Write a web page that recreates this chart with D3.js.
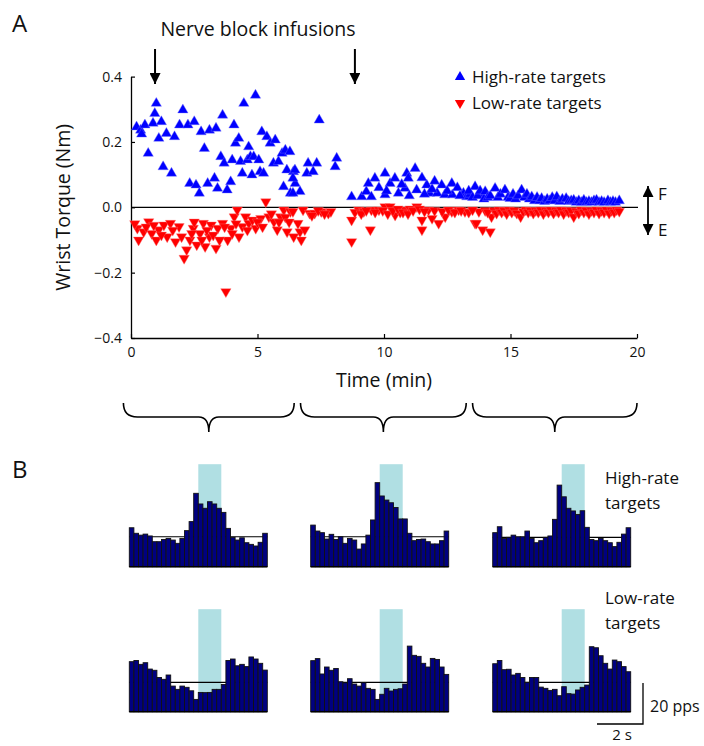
<!DOCTYPE html>
<html><head><meta charset="utf-8">
<script src="https://cdn.jsdelivr.net/npm/d3@7"></script>
<style>
body{margin:0;background:#fff}
svg{display:block}
text{font-family:"Open Sans",Lato,sans-serif;fill:#111}
</style>
</head><body>
<svg id="chart" width="704" height="746"></svg>
<script>
// ---------------- DATA ----------------
const xTicks = [0, 5, 10, 15, 20];
const yTicks = [-0.4, -0.2, 0, 0.2, 0.4];
const infusionTimes = [0.95, 8.85];
const seriesNames = ["High-rate targets", "Low-rate targets"];
const seriesColors = ["#0000ff", "#ff0000"];
const periodRanges = [[-0.3, 6.45], [6.7, 13.25], [13.5, 20]];

// [time (min), wrist torque (Nm)]
const highRate = [
[0.22,0.246],[0.38,0.236],[0.55,0.252],[0.42,0.224],[0.68,0.165],[0.87,0.257],[1.0,0.318],[0.94,0.287],[1.2,0.262],[1.1,0.211],
[1.4,0.226],[1.27,0.124],[1.6,0.104],[1.72,0.216],[1.92,0.252],[2.05,0.298],[2.25,0.252],[2.32,0.073],[2.5,0.262],[2.57,0.068],
[2.77,0.231],[2.7,0.043],[2.9,0.18],[3.03,0.073],[3.1,0.236],[3.3,0.089],[3.36,0.242],[3.42,0.058],[3.55,0.155],[3.62,0.282],
[3.68,0.135],[3.8,0.053],[3.94,0.078],[4.0,0.145],[4.07,0.252],[4.13,0.196],[4.26,0.211],[4.33,0.14],[4.4,0.104],[4.46,0.318],
[4.6,0.145],[4.65,0.185],[4.72,0.155],[4.78,0.099],[4.85,0.155],[4.92,0.343],[5.05,0.145],[5.1,0.109],[5.17,0.231],[5.24,0.104],
[5.37,0.216],[5.5,0.196],[5.63,0.135],[5.7,0.206],[5.83,0.14],[5.97,0.165],[6.03,0.063],[6.1,0.175],[6.16,0.114],[6.3,0.043],
[6.42,0.109],[6.49,0.073],[6.28,0.17],[6.48,0.114],[6.4,0.089],[6.68,0.048],[7.0,0.135],[6.95,0.104],[7.34,0.135],[7.2,0.109],
[7.44,0.267],[8.13,0.15],[8.07,0.124],[6.4,0.043],[8.72,0.032],[9.12,0.032],[9.38,0.073],[9.3,0.048],[9.64,0.089],[9.5,0.032],
[10.04,0.104],[10.24,0.073],[10.43,0.089],[10.04,0.038],[10.57,0.043],[10.9,0.104],[10.96,0.089],[11.23,0.119],[10.83,0.058],[11.29,0.053],
[11.69,0.068],[11.8,0.043],[12.28,0.068],[12.1,0.043],[12.68,0.073],[12.4,0.038],[12.7,0.038],[13.14,0.043],[13.27,0.032],[13.6,0.063],
[13.86,0.038],[9.8,0.06],[10.1,0.05],[10.7,0.07],[11.0,0.035],[11.5,0.09],[11.6,0.04],[11.9,0.055],[12.0,0.08],[12.5,0.05],
[12.9,0.06],[13.0,0.035],[13.4,0.04],[13.35,0.05],[13.5,0.03],[13.7,0.035],[13.8,0.05],[13.95,0.025],
[14.0,0.048],[14.1,0.03],[14.2,0.035],[14.39,0.058],[14.5,0.03],[14.6,0.04],[14.78,0.053],[14.9,0.03],[14.98,0.027],[15.1,0.04],
[15.2,0.025],[15.3,0.035],[15.44,0.053],[15.55,0.03],[15.65,0.04],[15.75,0.025],[15.84,0.032],[15.95,0.02],[16.05,0.03],[16.15,0.02],
[16.23,0.027],[16.35,0.018],[16.45,0.025],[16.55,0.02],[16.65,0.03],[16.75,0.02],[16.83,0.032],[16.95,0.018],[17.05,0.025],[17.2,0.027],
[17.3,0.018],[17.4,0.02],[17.5,0.022],[17.6,0.015],[17.7,0.02],[17.8,0.015],[17.9,0.022],[18.0,0.015],[18.1,0.018],[18.2,0.015],
[18.3,0.02],[18.4,0.022],[18.5,0.015],[18.6,0.018],[18.7,0.015],[18.85,0.02],[18.95,0.015],[19.05,0.018],[19.15,0.015],[19.3,0.02]
];

const lowRate = [
[0.25,-0.064],[0.3,-0.1],[0.5,-0.075],[0.7,-0.044],[0.82,-0.08],[1.0,-0.1],[1.1,-0.069],[1.3,-0.054],[1.43,-0.09],[1.56,-0.049],
[1.76,-0.105],[1.9,-0.059],[2.0,-0.09],[2.1,-0.156],[2.2,-0.13],[2.33,-0.1],[2.46,-0.064],[2.6,-0.115],[2.73,-0.08],[2.86,-0.049],
[2.93,-0.12],[3.1,-0.09],[3.17,-0.054],[3.36,-0.125],[3.43,-0.064],[3.62,-0.049],[3.75,-0.258],[3.82,-0.1],[3.95,-0.064],[4.08,-0.029],
[4.2,-0.008],[4.27,-0.09],[4.4,-0.059],[4.53,-0.029],[4.66,-0.049],[4.8,-0.039],[4.93,-0.064],[5.13,-0.034],[5.33,0.017],[5.45,-0.029],
[5.65,-0.044],[5.78,-0.069],[5.91,-0.029],[6.04,-0.008],[6.17,-0.075],[6.3,-0.013],[6.43,-0.09],
[0.15,-0.05],[0.6,-0.06],[0.9,-0.055],[1.2,-0.085],[1.65,-0.07],[2.4,-0.08],[2.5,-0.045],[2.8,-0.1],[3.0,-0.07],[3.25,-0.085],
[3.5,-0.1],[3.7,-0.06],[4.0,-0.08],[4.15,-0.05],[4.6,-0.07],[5.0,-0.045],[5.2,-0.06],[5.55,-0.02],[5.85,-0.045],[6.1,-0.03],[6.25,-0.045],
[6.4,-0.013],[6.6,-0.049],[6.68,-0.075],[6.73,-0.1],[6.87,-0.069],[6.8,-0.008],[7.06,-0.018],[7.26,-0.018],[7.52,-0.013],[7.8,-0.018],
[7.9,-0.013],[8.72,-0.039],[8.72,-0.105],[9.0,-0.008],[9.2,-0.013],[9.46,-0.069],[9.5,-0.008],[9.8,-0.008],[10.04,0.002],[10.24,0.002],
[10.44,-0.024],[10.64,-0.015],[10.83,-0.008],[11.03,-0.005],[11.3,0.002],[11.5,-0.039],[11.5,-0.069],[11.76,-0.008],[11.9,-0.034],[12.16,-0.049],
[12.42,-0.029],[12.68,-0.013],[12.95,-0.008],[13.2,-0.013],[13.6,-0.049],[13.75,-0.013],[13.9,-0.069],
[7.15,-0.025],[7.4,-0.01],[7.65,-0.02],[8.85,-0.015],[9.1,-0.02],[9.3,-0.01],[9.65,-0.015],[9.95,-0.01],[10.15,-0.02],[10.35,-0.01],
[10.55,-0.005],[10.75,-0.015],[10.95,-0.02],[11.15,-0.01],[11.4,-0.005],[11.6,-0.012],[12.0,-0.01],[12.3,-0.012],[12.55,-0.008],[12.8,-0.015],
[13.05,-0.01],[13.35,-0.015],[13.5,-0.008],
[13.65,-0.049],[14.0,-0.01],[14.2,-0.075],[14.25,-0.029],[14.1,-0.015],[14.35,-0.01],[14.45,-0.018],[14.55,-0.008],[14.65,-0.015],[14.75,-0.01],
[14.85,-0.02],[14.95,-0.008],[15.05,-0.015],[15.15,-0.01],[15.25,-0.018],[15.4,-0.029],[15.5,-0.012],[15.6,-0.008],[15.7,-0.015],[15.8,-0.01],
[15.9,-0.018],[16.0,-0.01],[16.1,-0.015],[16.2,-0.008],[16.3,-0.02],[16.4,-0.01],[16.5,-0.015],[16.6,-0.008],[16.7,-0.018],[16.8,-0.01],
[16.9,-0.015],[17.0,-0.008],[17.1,-0.02],[17.2,-0.01],[17.3,-0.015],[17.4,-0.01],[17.5,-0.029],[17.6,-0.012],[17.7,-0.018],[17.8,-0.008],
[17.9,-0.015],[18.0,-0.01],[18.1,-0.02],[18.2,-0.01],[18.3,-0.015],[18.4,-0.008],[18.5,-0.018],[18.6,-0.01],[18.7,-0.015],[18.8,-0.008],
[18.9,-0.018],[19.0,-0.01],[19.1,-0.015],[19.2,-0.008],[19.3,-0.012]
];

// Panel B: firing-rate histograms (pps), 30 bins of 0.2 s from -3 s to +3 s
const histHigh1 = [19.0,16.3,15.4,15.9,15.0,12.2,12.2,13.3,13.8,13.0,11.4,13.8,17.6,22.0,35.8,30.6,28.5,31.7,30.6,28.5,26.5,18.7,14.3,13.0,14.1,11.7,10.9,10.1,11.9,16.3];
const histHigh2 = [20.3,17.4,16.6,13.5,15.8,13.3,14.6,11.4,13.8,13.0,8.6,11.1,15.4,22.8,41.0,34.5,32.5,31.2,28.9,23.3,23.3,16.3,12.7,13.3,13.5,12.2,11.1,11.1,12.7,17.4];
const histHigh3 = [16.6,19.5,13.8,14.3,15.4,14.6,14.6,17.4,13.8,11.7,12.7,14.3,15.0,23.1,39.8,34.1,28.5,27.2,25.5,27.3,19.2,13.3,12.7,13.8,12.7,11.7,9.8,11.9,15.9,19.0];
const histLow1 = [24.4,25.0,23.1,23.9,20.8,20.2,16.7,15.8,17.9,12.5,10.9,12.5,11.9,10.2,6.0,9.4,9.3,9.4,10.9,10.9,13.3,25.0,25.7,22.4,23.1,22.0,26.7,25.7,23.6,20.3];
const histLow2 = [24.9,25.9,18.4,21.8,20.2,21.1,14.6,14.1,16.1,13.5,12.5,14.1,11.4,10.9,6.0,8.5,11.4,10.1,10.9,11.2,13.5,32.0,27.5,27.0,23.6,21.8,26.0,25.5,21.8,18.2];
const histLow3 = [23.4,25.0,20.5,20.7,17.9,18.7,16.7,14.3,16.7,16.7,12.0,11.4,10.4,10.9,7.8,12.2,8.8,8.6,10.6,11.9,13.0,31.7,31.2,27.3,23.6,20.8,25.2,24.4,22.0,19.5];
const meanHigh = [14.6, 14.6, 14.3];
const meanLow = [14.3, 14.3, 14.3];
const binStart = -3, binWidth = 0.2;
const targetWindow = [0, 1];   // s (shaded)
const rateMax = 50;            // pps (top of shaded window)
const scaleBarRate = 20, scaleBarTime = 2;

// ---------------- DRAWING ----------------
const svg = d3.select("#chart");
const F = "'Open Sans', Lato, sans-serif";

// Panel A scales
const x = d3.scaleLinear().domain([0, 20]).range([131, 637]);
const y = d3.scaleLinear().domain([-0.4, 0.4]).range([338, 76.6]);

// zero line
svg.append("line").attr("x1", x(0)).attr("x2", x(20) + 1).attr("y1", y(0)).attr("y2", y(0))
  .attr("stroke", "#000").attr("stroke-width", 1.2);

// axes
const gx = svg.append("g").attr("transform", `translate(0,${y(-0.4)})`)
  .call(d3.axisBottom(x).tickValues(xTicks).tickSizeInner(-4).tickSizeOuter(0).tickPadding(9).tickFormat(d3.format("d")));
const gy = svg.append("g").attr("transform", `translate(${x(0)},0)`)
  .call(d3.axisLeft(y).tickValues(yTicks).tickSizeInner(-4).tickSizeOuter(0).tickPadding(9)
    .tickFormat(d => d === 0 ? "0.0" : d3.format(".1f")(d)));
[gx, gy].forEach(g => {
  g.select(".domain").attr("stroke", "#000").attr("stroke-width", 1.3);
  g.selectAll(".tick line").attr("stroke", "#000").attr("stroke-width", 1.2);
  g.selectAll(".tick text").attr("font-family", F).attr("font-size", 14).attr("fill", "#111");
});

// axis titles
svg.append("text").attr("x", x(10)).attr("y", 387).attr("text-anchor", "middle")
  .attr("font-size", 19.5).text("Time (min)");
svg.append("text").attr("transform", `translate(70,${y(0)}) rotate(-90)`).attr("text-anchor", "middle")
  .attr("font-size", 19.5).text("Wrist Torque (Nm)");

// markers
const tri = d3.symbol().type(d3.symbolTriangle).size(46);
svg.append("g").selectAll("path").data(highRate).join("path")
  .attr("d", tri).attr("transform", d => `translate(${x(d[0])},${y(d[1])})`)
  .attr("fill", seriesColors[0]).attr("stroke", "#7070ff").attr("stroke-width", 0.4);
svg.append("g").selectAll("path").data(lowRate).join("path")
  .attr("d", tri).attr("transform", d => `translate(${x(d[0])},${y(d[1])}) rotate(180)`)
  .attr("fill", seriesColors[1]).attr("stroke", "#ff7070").attr("stroke-width", 0.4);

// legend
seriesNames.forEach((name, i) => {
  const ly = 77 + i * 26;
  svg.append("path").attr("d", tri)
    .attr("transform", `translate(460,${ly})${i === 1 ? " rotate(180)" : ""}`)
    .attr("fill", seriesColors[i]);
  svg.append("text").attr("x", 472).attr("y", ly + 6).attr("font-size", 17).text(name);
});

// arrow marker defs
const defs = svg.append("defs");
defs.append("marker").attr("id", "ah").attr("viewBox", "0 0 10 10").attr("refX", 10).attr("refY", 5)
  .attr("markerWidth", 11).attr("markerHeight", 11).attr("markerUnits", "userSpaceOnUse").attr("orient", "auto")
  .append("path").attr("d", "M0,0 L10,5 L0,10 Z").attr("fill", "#000");
defs.append("marker").attr("id", "ah2").attr("viewBox", "0 0 10 10").attr("refX", 10).attr("refY", 5)
  .attr("markerWidth", 11).attr("markerHeight", 11).attr("markerUnits", "userSpaceOnUse").attr("orient", "auto-start-reverse")
  .append("path").attr("d", "M0,0 L10,5 L0,10 Z").attr("fill", "#000");

// nerve block infusion arrows
svg.append("text").attr("x", 258).attr("y", 36).attr("text-anchor", "middle").attr("font-size", 19.5)
  .text("Nerve block infusions");
infusionTimes.forEach(t => {
  svg.append("line").attr("x1", x(t)).attr("x2", x(t)).attr("y1", 49).attr("y2", 84)
    .attr("stroke", "#000").attr("stroke-width", 2).attr("marker-end", "url(#ah)");
});

// F / E arrow
svg.append("line").attr("x1", 648).attr("x2", 648).attr("y1", 186).attr("y2", 235)
  .attr("stroke", "#000").attr("stroke-width", 1.8)
  .attr("marker-start", "url(#ah2)").attr("marker-end", "url(#ah2)");
svg.append("text").attr("x", 658).attr("y", 200).attr("font-size", 17).text("F");
svg.append("text").attr("x", 658).attr("y", 236).attr("font-size", 17).text("E");

// panel labels
svg.append("text").attr("x", 12).attr("y", 32).attr("font-size", 24).text("A");
svg.append("text").attr("x", 12).attr("y", 478).attr("font-size", 24).text("B");

// braces
periodRanges.forEach(([a, b]) => {
  const xa = x(a), xb = x(b), m = (xa + xb) / 2;
  const top = 403, mid = 417, tip = 432, r = 14;
  const p = `M${xa},${top} Q${xa},${mid} ${xa + r},${mid} L${m - 10},${mid} Q${m},${mid} ${m},${tip} ` +
            `Q${m},${mid} ${m + 10},${mid} L${xb - r},${mid} Q${xb},${mid} ${xb},${top}`;
  svg.append("path").attr("d", p).attr("fill", "none").attr("stroke", "#000").attr("stroke-width", 1.6);
});

// Panel B histograms
const histLefts = [129.3, 310.7, 492.7];
const histW = 138;
const rows = [
  {data: [histHigh1, histHigh2, histHigh3], means: meanHigh, base: 566.7},
  {data: [histLow1, histLow2, histLow3], means: meanLow, base: 711.7}
];
const ry = d3.scaleLinear().domain([0, rateMax]).range([0, 102.5]);
rows.forEach(row => {
  row.data.forEach((vals, k) => {
    const hx = d3.scaleLinear().domain([binStart, binStart + vals.length * binWidth]).range([histLefts[k], histLefts[k] + histW]);
    const g = svg.append("g");
    g.append("rect").attr("x", hx(targetWindow[0])).attr("width", hx(targetWindow[1]) - hx(targetWindow[0]))
      .attr("y", row.base - ry(rateMax)).attr("height", ry(rateMax)).attr("fill", "#b0dfe3");
    g.append("line").attr("x1", hx(binStart)).attr("x2", hx(binStart + vals.length * binWidth))
      .attr("y1", row.base - ry(row.means[k])).attr("y2", row.base - ry(row.means[k]))
      .attr("stroke", "#000").attr("stroke-width", 1.2);
    g.selectAll("rect.bar").data(vals).join("rect").attr("class", "bar")
      .attr("x", (d, i) => hx(binStart + i * binWidth))
      .attr("width", hx(binWidth) - hx(0))
      .attr("y", d => row.base - ry(d)).attr("height", d => ry(d))
      .attr("fill", "#000080").attr("stroke", "#111").attr("stroke-width", 0.9);
    g.append("line").attr("x1", hx(binStart)).attr("x2", hx(binStart + vals.length * binWidth))
      .attr("y1", row.base).attr("y2", row.base).attr("stroke", "#000").attr("stroke-width", 1.5);
  });
});

// row labels
[["High-rate", "targets", 484, 509], ["Low-rate", "targets", 604, 629]].forEach(([a, b, y1, y2]) => {
  svg.append("text").attr("x", 605).attr("y", y1).attr("font-size", 17).text(a);
  svg.append("text").attr("x", 605).attr("y", y2).attr("font-size", 17).text(b);
});

// scale bars
const sbx = 643, sby = 724;
const hs = d3.scaleLinear().domain([0, 6]).range([0, histW]);
svg.append("path")
  .attr("d", `M${sbx - hs(scaleBarTime)},${sby} L${sbx},${sby} L${sbx},${sby - ry(scaleBarRate)}`)
  .attr("fill", "none").attr("stroke", "#000").attr("stroke-width", 1.3);
svg.append("text").attr("x", 650).attr("y", 712).attr("font-size", 16).text(scaleBarRate + " pps");
svg.append("text").attr("x", sbx - hs(scaleBarTime) / 2 + 2).attr("y", 740).attr("text-anchor", "middle")
  .attr("font-size", 15).text(scaleBarTime + " s");
</script>
</body></html>
